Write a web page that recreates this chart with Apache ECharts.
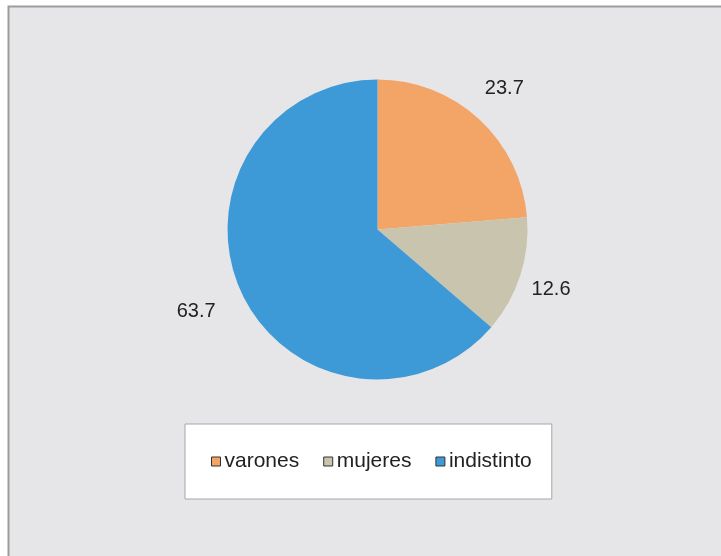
<!DOCTYPE html>
<html>
<head>
<meta charset="utf-8">
<script src="https://cdn.jsdelivr.net/npm/echarts@6/dist/echarts.min.js"></script>
<style>
  html, body { margin: 0; padding: 0; background: #fff; }
  #chart { width: 721px; height: 556px; }
</style>
</head>
<body>
<div id="chart"></div>
<script>
const categories = ['varones', 'mujeres', 'indistinto'];
const values = [23.7, 12.6, 63.7];
const colors = ['#f2a566', '#c8c4ae', '#3e9ad6'];

const chart = echarts.init(document.getElementById('chart'));

const pieData = categories.map((name, i) => ({
    name: name,
    value: values[i],
    itemStyle: { color: colors[i] }
}));

// transparent ring used only to place the value labels around the pie
const labelRing = categories.map((name, i) => ({
    name: name,
    value: values[i]
}));

const option = {
    backgroundColor: '#ffffff',
    animation: false,
    graphic: [
        {
            type: 'rect',
            z: -10,
            shape: { x: 8.5, y: 6.5, width: 800, height: 700 },
            style: { fill: '#e6e6e8', stroke: '#9c9c9c', lineWidth: 2 }
        }
    ],
    legend: {
        left: 185,
        top: 424,
        orient: 'horizontal',
        data: categories,
        backgroundColor: '#ffffff',
        borderColor: '#a6a6a6',
        borderWidth: 1,
        padding: [27, 20, 27, 26],
        itemWidth: 9,
        itemHeight: 9,
        itemGap: 24,
        icon: 'rect',
        itemStyle: { borderColor: '#333333', borderWidth: 1 },
        textStyle: {
            fontFamily: 'Liberation Sans, Arial, sans-serif',
            fontSize: 21,
            color: '#222222',
            padding: [0, 0, 0, -1]
        }
    },
    series: [
        {
            type: 'pie',
            center: [377.5, 229.5],
            radius: 150,
            startAngle: 90,
            clockwise: true,
            silent: true,
            label: { show: false },
            labelLine: { show: false },
            data: pieData
        },
        {
            type: 'pie',
            center: [377.5, 229.5],
            radius: [175, 205],
            startAngle: 90,
            clockwise: true,
            silent: true,
            itemStyle: { color: 'transparent' },
            emphasis: { disabled: true },
            label: {
                show: true,
                position: 'inside',
                formatter: '{c}',
                fontFamily: 'Liberation Sans, Arial, sans-serif',
                fontSize: 20,
                color: '#222222'
            },
            labelLine: { show: false },
            labelLayout: function (params) {
                const shifts = [[-4, 1], [-10, 0], [-6, 1]];
                return { dx: shifts[params.dataIndex][0], dy: shifts[params.dataIndex][1] };
            },
            data: labelRing
        }
    ]
};

chart.setOption(option);
</script>
</body>
</html>
